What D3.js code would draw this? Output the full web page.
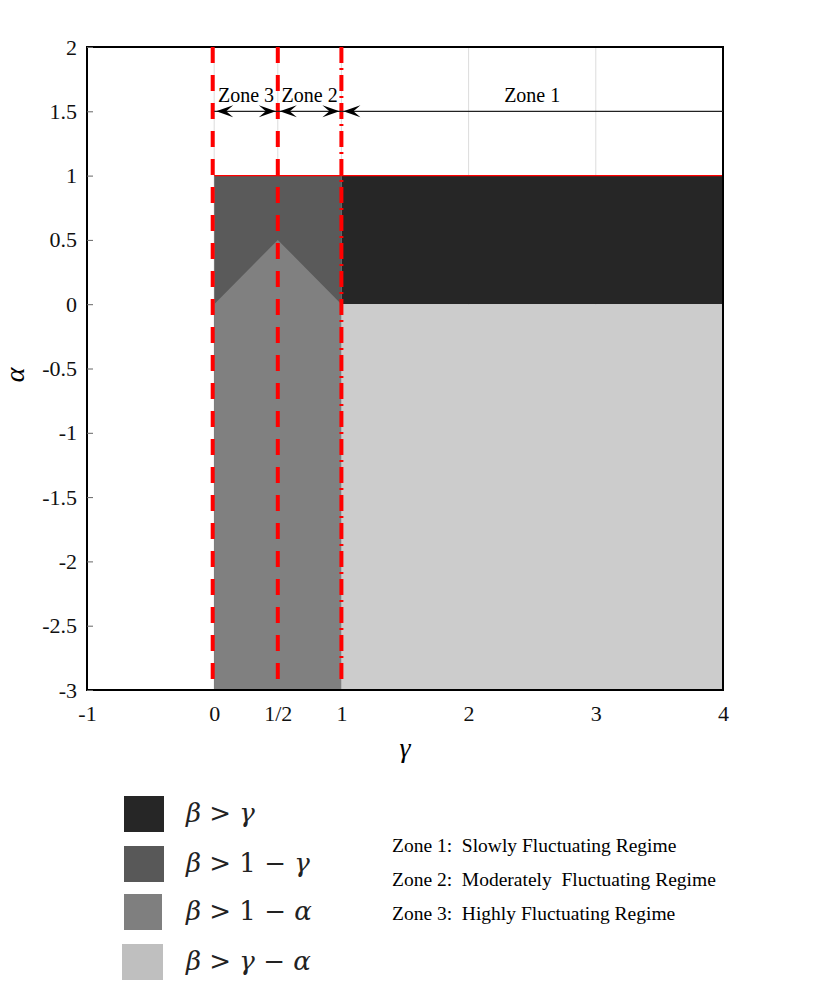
<!DOCTYPE html>
<html><head><meta charset="utf-8">
<script src="https://cdn.jsdelivr.net/npm/d3@7"></script>
<style>
body{margin:0;background:#fff;}
text{font-family:"Liberation Serif","Times New Roman",serif;}
</style></head>
<body><svg id="c" width="830" height="981"></svg>
<script>
// ---- data ----
const xTicks = [-1, 0, 0.5, 1, 2, 3, 4];
const xTickLabels = ["-1", "0", "1/2", "1", "2", "3", "4"];
const yTicks = [2, 1.5, 1, 0.5, 0, -0.5, -1, -1.5, -2, -2.5, -3];
const yTickLabels = ["2", "1.5", "1", "0.5", "0", "-0.5", "-1", "-1.5", "-2", "-2.5", "-3"];
const regionNames = ["beta>gamma", "beta>1-gamma", "beta>1-alpha", "beta>gamma-alpha"];
const regionColors = ["#262626", "#5a5a5a", "#808080", "#cccccc"];
// polygons in (gamma, alpha)
const regionPolys = [
  [[1, 0], [4, 0], [4, 1], [1, 1]],
  [[0, -3], [1, -3], [1, 1], [0, 1]],
  [[0, -3], [1, -3], [1, 0], [0.5, 0.5], [0, 0]],
  [[1, -3], [4, -3], [4, 0], [1, 0]]
];
const legendColors = ["#262626", "#585858", "#7f7f7f", "#bfbfbf"];
const boundaries = [0, 0.5, 1];
const boundaryDash = ["16,12", "16,12", "16,5,2,5"];
const zones = ["Zone 3", "Zone 2", "Zone 1"];
const zoneSpans = [[0, 0.5], [0.5, 1], [1, 4]];
const zoneArrowY = 1.5;
const zoneNotes = ["Zone 1:  Slowly Fluctuating Regime", "Zone 2:  Moderately  Fluctuating Regime", "Zone 3:  Highly Fluctuating Regime"];

// ---- layout ----
const svg = d3.select("#c");
const L = 87, R = 723, T = 47, B = 690;
const x = d3.scaleLinear().domain([-1, 4]).range([L, R]);
const y = d3.scaleLinear().domain([-3, 2]).range([B, T]);

// grid
svg.append("g").selectAll("line").data(xTicks.filter(d => d > -1 && d < 4)).join("line")
  .attr("x1", d => x(d)).attr("x2", d => x(d)).attr("y1", T).attr("y2", B)
  .attr("stroke", "#dcdcdc").attr("stroke-width", 1);

// regions
const line = d3.line().x(d => x(d[0])).y(d => y(d[1]));
svg.append("g").selectAll("path").data(regionPolys).join("path")
  .attr("d", d => line(d) + "Z").attr("fill", (d, i) => regionColors[i]);

// red horizontal border at alpha=1
svg.append("line").attr("x1", x(0)).attr("x2", x(4)).attr("y1", y(1)).attr("y2", y(1))
  .attr("stroke", "#ff0000").attr("stroke-width", 1.2);

// frame
svg.append("rect").attr("x", L).attr("y", T).attr("width", R - L).attr("height", B - T)
  .attr("fill", "none").attr("stroke", "#000").attr("stroke-width", 2);

// y axis ticks
const yAxis = d3.axisLeft(y).tickValues(yTicks).tickSize(-6).tickPadding(10)
  .tickFormat((d, i) => yTickLabels[i]);
const gy = svg.append("g").attr("transform", `translate(${L},0)`).call(yAxis);
gy.select(".domain").remove();
gy.selectAll(".tick line").attr("stroke", "#666");
gy.selectAll(".tick text").attr("font-size", 22).attr("fill", "#111")
  .style("font-family", "'Liberation Serif',serif");

// x axis labels
const xAxis = d3.axisBottom(x).tickValues(xTicks).tickSize(0).tickPadding(15)
  .tickFormat((d, i) => xTickLabels[i]);
const gx = svg.append("g").attr("transform", `translate(0,${B})`).call(xAxis);
gx.select(".domain").remove();
gx.selectAll(".tick text").attr("font-size", 22).attr("fill", "#111")
  .style("font-family", "'Liberation Serif',serif");

// red boundary lines
svg.append("g").selectAll("line").data(boundaries).join("line")
  .attr("x1", d => x(d) - (d === 0 ? 1.5 : 0)).attr("x2", d => x(d) - (d === 0 ? 1.5 : 0))
  .attr("y1", T).attr("y2", B - 8)
  .attr("stroke", "#ff0000").attr("stroke-width", 4)
  .attr("stroke-dasharray", (d, i) => boundaryDash[i]);

// zone arrows
const ay = y(zoneArrowY);
function head(px, dir) { // dir: +1 points right, -1 points left
  const l = 17, w = 6, n = 10;
  return `M${px},${ay} L${px - dir * l},${ay - w} L${px - dir * n},${ay} L${px - dir * l},${ay + w} Z`;
}
const za = svg.append("g");
zoneSpans.forEach((s, i) => {
  za.append("line").attr("x1", x(s[0])).attr("x2", x(s[1])).attr("y1", ay).attr("y2", ay)
    .attr("stroke", "#222").attr("stroke-width", 1.2);
  za.append("path").attr("d", head(x(s[0]) + 2, -1)).attr("fill", "#000");
  if (i < 2) za.append("path").attr("d", head(x(s[1]) - 2, 1)).attr("fill", "#000");
  za.append("text").attr("x", (x(s[0]) + x(s[1])) / 2).attr("y", ay - 9)
    .attr("text-anchor", "middle").attr("font-size", 20).text(zones[i]);
});

// axis titles
svg.append("text").attr("x", 405).attr("y", 757).attr("text-anchor", "middle")
  .attr("font-size", 28).attr("font-style", "italic").text("γ");
svg.append("text").attr("transform", "translate(24,375) rotate(-90)").attr("text-anchor", "middle")
  .attr("font-size", 28).attr("font-style", "italic").text("α");

// legend
const legY = [796, 846, 894, 944];
const legX = [124, 124, 124, 122];
const legW = [40, 40, 38, 41];
const legendLabels = [
  [["β", 1], [" > ", 0], ["γ", 1]],
  [["β", 1], [" > 1 − ", 0], ["γ", 1]],
  [["β", 1], [" > 1 − ", 0], ["α", 1]],
  [["β", 1], [" > ", 0], ["γ", 1], [" − ", 0], ["α", 1]]
];
const lg = svg.append("g");
legendColors.forEach((c, i) => {
  lg.append("rect").attr("x", legX[i]).attr("y", legY[i]).attr("width", legW[i]).attr("height", 36).attr("fill", c);
  const t = lg.append("text").attr("x", 186).attr("y", legY[i] + 26).attr("font-size", 26)
    .style("font-family", "'DejaVu Serif','Liberation Serif',serif").attr("fill", "#222");
  legendLabels[i].forEach(p => {
    t.append("tspan").attr("font-style", p[1] ? "italic" : "normal").text(p[0]);
  });
});

// zone notes
svg.append("g").selectAll("text").data(zoneNotes).join("text")
  .attr("x", 392).attr("y", (d, i) => 852 + i * 34).attr("font-size", 19.5)
  .style("white-space", "pre").attr("xml:space", "preserve").text(d => d);
</script></body></html>
